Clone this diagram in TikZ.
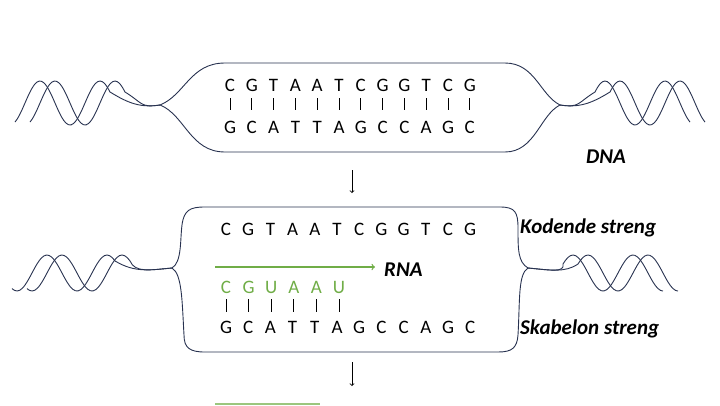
\documentclass[tikz,border=0pt]{standalone}
\usepackage{fontspec}
\setmainfont{Carlito}
\begin{document}
\begin{tikzpicture}[x=1pt,y=-1pt,
  base/.style={font=\fontsize{19}{19}\selectfont, inner sep=0pt},
  lab/.style={font=\fontsize{21}{21}\selectfont\bfseries\itshape, inner sep=0pt, anchor=west},
  bar/.style={draw=black, line width=0.8pt}]
\useasboundingbox (0,0) rectangle (720,405);
\definecolor{navy}{RGB}{40,50,80}
\definecolor{grn}{RGB}{112,173,71}
% ---- top bubble ----
\draw[navy, line width=0.9pt] (160,105) .. controls (185,95) and (190,63) .. (225,63) -- (505,63)
  .. controls (535,63) and (540,95) .. (560,105) .. controls (540,115) and (535,152) .. (505,152)
  -- (225,152) .. controls (190,152) and (185,115) .. (160,105) -- cycle;
\foreach \s in {0,15}{
 \draw[navy, line width=0.9pt] plot[smooth, domain=15+\s:110+\s, samples=40] (\x,{103-22*cos((\x-40-\s)*6)})
   .. controls (128+\s,103) and (140,108) .. (160,105);
 \draw[navy, line width=0.9pt] plot[smooth, domain=705-\s:610-\s, samples=40] (\x,{103-22*cos((\x-680+\s)*6)})
   .. controls (592-\s,103) and (580,108) .. (560,105);
}
\foreach \t [count=\i] in {C,G,T,A,A,T,C,G,G,T,C,G}
  \node[base] (t\i) at (230+21.8*\i-21.8,85) {\t};
\foreach \t [count=\i] in {G,C,A,T,T,A,G,C,C,A,G,C}
  \node[base] (b\i) at (230+21.8*\i-21.8,127) {\t};
\foreach \i in {1,...,12} \draw[bar] (t\i |- 0,98) -- (t\i |- 0,110);
\node[lab] (dna) at (586,157) {DNA};
\draw[->, line width=0.8pt] (352,170) -- (352,193);
% ---- second bubble ----
\draw[navy, line width=0.9pt] (172,268) .. controls (182,262) and (180,240) .. (182,225)
  .. controls (184,210) and (190,207) .. (205,207) -- (500,207)
  .. controls (515,207) and (518,212) .. (518,228) .. controls (518,250) and (518,262) .. (528,268)
  .. controls (518,274) and (520,300) .. (518,335) .. controls (517,348) and (512,352) .. (498,352)
  -- (205,352) .. controls (190,352) and (184,348) .. (184,335) .. controls (182,300) and (182,274) .. (172,268) -- cycle;
\foreach \s in {0,15}{
 \draw[navy, line width=0.9pt] plot[smooth, domain=12+\s:115+\s, samples=40] (\x,{273-18*cos((\x-47-\s)*6)})
   .. controls (135,273) and (150,270) .. (172,268);
 \draw[navy, line width=0.9pt] plot[smooth, domain=678-\s:578-\s, samples=40] (\x,{273-18*cos((\x-648+\s)*6)})
   .. controls (565,273) and (550,270) .. (528,268);
}
\foreach \t [count=\i] in {C,G,T,A,A,T,C,G,G,T,C,G}
  \node[base] (k\i) at (226+22.2*\i-22.2,229) {\t};
\foreach \t [count=\i] in {G,C,A,T,T,A,G,C,C,A,G,C}
  \node[base] (s\i) at (226+22.2*\i-22.2,327) {\t};
\foreach \t [count=\i] in {C,G,U,A,A,U}
  \node[base, text=grn] (r\i) at (226+22.6*\i-22.6,287) {\t};
\foreach \i in {1,...,6} \draw[bar] (r\i |- 0,299) -- (r\i |- 0,312);
\coordinate (ga) at (215,267);
\node[lab] (rna) at (384,270) {RNA};
\draw[->, grn, line width=1.3pt] (ga) -- (375,267);
\node[lab] (kod) at (520,228) {Kodende streng};
\node[lab] (skb) at (520,329) {Skabelon streng};
\draw[->, line width=0.8pt] (352,362) -- (352,386);
\draw[grn!70, line width=2pt] (215,404) -- (320,404);
\end{tikzpicture}
\end{document}
